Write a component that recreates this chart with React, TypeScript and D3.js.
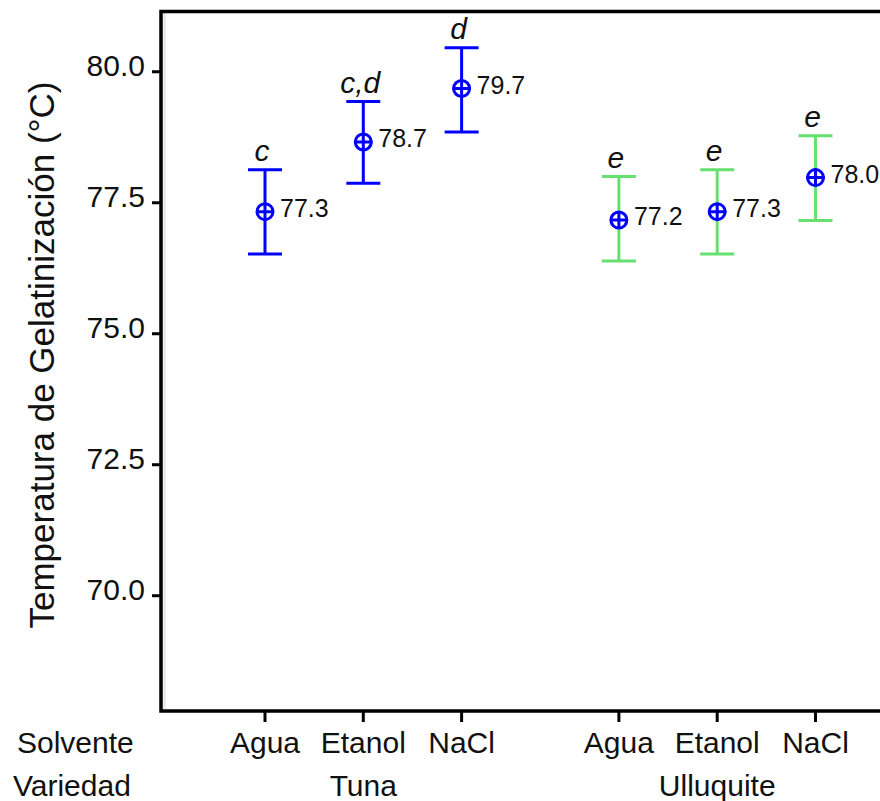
import {useEffect, useRef} from "react";
import * as d3 from "d3";

// valores
const solventes = ["Agua", "Etanol", "NaCl", "Agua", "Etanol", "NaCl"];
const variedades = ["Tuna", "Tuna", "Tuna", "Ulluquite", "Ulluquite", "Ulluquite"];
const grupos = ["Tuna", "Ulluquite"];
const medias = [77.33, 78.66, 79.68, 77.17, 77.33, 77.98];
const inferior = [76.52, 77.87, 78.85, 76.39, 76.52, 77.16];
const superior = [78.13, 79.43, 80.46, 78.0, 78.13, 78.78];
const letras = ["c", "c,d", "d", "e", "e", "e"];
const yTicks = [70, 72.5, 75, 77.5, 80];

const W = 880, H = 801;
const left = 161, top = 11.5, bottom = 711;
const colores: Record<string, string> = {Tuna: "#0000ff", Ulluquite: "#66e070"};
const font = "'Liberation Sans', Arial, sans-serif";

const App = () => {
    const ref = useRef<SVGSVGElement>(null);

    useEffect(() => {
        const svg = d3.select(ref.current);
        svg.selectAll("*").remove();

        const y = d3.scaleLinear().domain([67.8, 81.15]).range([bottom, top]);
        // posicion: indice dentro del grupo + separacion entre grupos
        const pos = solventes.map((_, i) => grupos.indexOf(variedades[i]) * 3.6 + (i % 3));
        const x = d3.scaleLinear().domain([0, 5.6]).range([265, 815.5]);

        // marco
        svg.append("line").attr("x1", left + 3.5).attr("x2", left + 3.5).attr("y1", top + 1.5).attr("y2", bottom - 1.5)
            .attr("stroke", "#ececec").attr("stroke-width", 3);
        svg.append("path").attr("d", `M${W + 5},${top}H${left}V${bottom}H${W + 5}`)
            .attr("fill", "none").attr("stroke", "#000").attr("stroke-width", 3.5);

        // eje y
        const gy = svg.append("g");
        gy.selectAll("line").data(yTicks).enter().append("line")
            .attr("x1", 152).attr("x2", left).attr("y1", d => y(d)).attr("y2", d => y(d))
            .attr("stroke", "#000").attr("stroke-width", 3);
        gy.selectAll("text").data(yTicks).enter().append("text")
            .attr("x", 145).attr("y", d => y(d) + 4).attr("text-anchor", "end")
            .attr("font-family", font).attr("font-size", 30).attr("fill", "#111")
            .text(d => d3.format(".1f")(d));

        svg.append("text")
            .attr("transform", `translate(54,355) rotate(-90)`)
            .attr("text-anchor", "middle").attr("font-family", font).attr("font-size", 35).attr("fill", "#111")
            .text("Temperatura de Gelatinización (°C)");

        // eje x
        svg.selectAll(".xt").data(pos).enter().append("line")
            .attr("x1", d => x(d)).attr("x2", d => x(d)).attr("y1", bottom).attr("y2", 722)
            .attr("stroke", "#000").attr("stroke-width", 3);
        svg.selectAll(".xl").data(solventes).enter().append("text")
            .attr("x", (_, i) => x(pos[i])).attr("y", 753).attr("text-anchor", "middle")
            .attr("font-family", font).attr("font-size", 30).attr("fill", "#111").text(d => d);
        svg.selectAll(".gl").data(grupos).enter().append("text")
            .attr("x", (_, g) => x(g * 3.6 + 1)).attr("y", 796).attr("text-anchor", "middle")
            .attr("font-family", font).attr("font-size", 30).attr("fill", "#111").text(d => d);
        svg.append("text").attr("x", 17).attr("y", 753).attr("font-family", font).attr("font-size", 30)
            .attr("fill", "#111").text("Solvente");
        svg.append("text").attr("x", 13).attr("y", 796).attr("font-family", font).attr("font-size", 30)
            .attr("fill", "#111").text("Variedad");

        // barras de error, medias y letras
        const g = svg.append("g");
        medias.forEach((m, i) => {
            const cx = x(pos[i]);
            const c = colores[variedades[i]];
            const y1 = y(superior[i]), y0 = y(inferior[i]), cy = y(m);
            g.append("path").attr("d", `M${cx - 17},${y1}H${cx + 17}M${cx},${y1}V${y0}M${cx - 17},${y0}H${cx + 17}`)
                .attr("fill", "none").attr("stroke", c).attr("stroke-width", 3);
            g.append("circle").attr("cx", cx).attr("cy", cy).attr("r", 8)
                .attr("fill", "#fff").attr("stroke", "#0000ff").attr("stroke-width", 3);
            g.append("path").attr("d", `M${cx - 9},${cy}H${cx + 9}M${cx},${cy - 9}V${cy + 9}`)
                .attr("stroke", "#0000ff").attr("stroke-width", 3);
            g.append("text").attr("x", cx + 15).attr("y", cy + 5)
                .attr("font-family", font).attr("font-size", 25).attr("fill", "#111")
                .text(d3.format(".1f")(m));
            g.append("text").attr("x", cx - 3).attr("y", y1 - 9).attr("text-anchor", "middle")
                .attr("font-family", font).attr("font-size", 30).attr("font-style", "italic").attr("fill", "#111")
                .text(letras[i]);
        });
    }, []);

    return <svg ref={ref} width={W} height={H} style={{position: "absolute", left: 0, top: 0, background: "#fff"}}/>;
};

export default App;
